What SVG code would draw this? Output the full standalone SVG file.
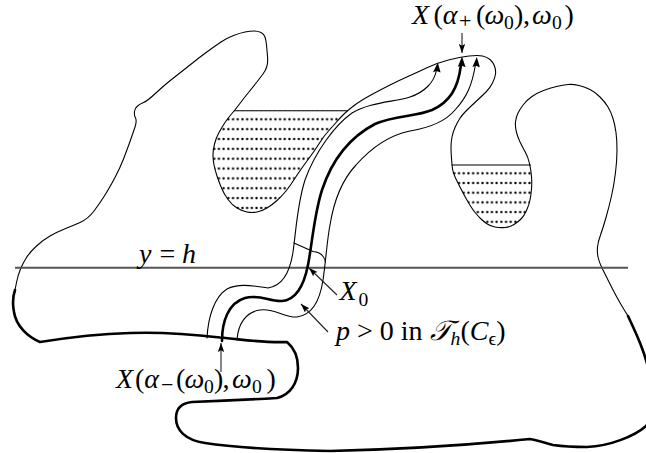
<svg xmlns="http://www.w3.org/2000/svg" width="646" height="453" viewBox="0 0 646 453">
<style>
.thin{fill:none;stroke:#000;stroke-width:1.1;stroke-linejoin:round;stroke-linecap:round}
.thick{fill:none;stroke:#000;stroke-width:2.6;stroke-linejoin:round;stroke-linecap:round}
.ah{fill:#000;stroke:none}
.lbl{fill:none;stroke:#222;stroke-width:1.1}
.t{font-family:"Liberation Serif","DejaVu Serif",serif;font-size:28px;fill:#000}
.i{font-style:italic}
.s{font-size:19.6px}
.sg{font-size:22px}
</style>
<defs>
<pattern id="dotsL" patternUnits="userSpaceOnUse" x="226" y="114.375" width="4.7" height="9.85">
<circle cx="2.35" cy="4.925" r="1.2" fill="#000"/>
</pattern>
<pattern id="dotsR" patternUnits="userSpaceOnUse" x="452" y="168.45" width="4.7" height="9.7">
<circle cx="2.35" cy="4.85" r="1.2" fill="#000"/>
</pattern>
<clipPath id="clipL"><polygon points="234.5,110.7 228,118 222,127 216,138 213,150 213,160 215,170 219,182 224,194 232,205 242,211 252,213 262,211 272,205 282,196 290,186 297,175 304,165 310,157 317,147 324,136 333,126 340,118 347.5,110.7"/></clipPath>
<clipPath id="clipR"><polygon points="452,165 453,173 458,183 463,193 468,202 473,210 478,216 483,221 490,226 500,228 510,227 518,222 524,216 529,205 531,195 532,183 530.5,165"/></clipPath>
<marker id="arr" viewBox="0 0 10 7" refX="10" refY="3.5" markerUnits="userSpaceOnUse" markerWidth="9" markerHeight="6.3" orient="auto">
<path d="M0,0 L10,3.5 L0,7 L2,3.5 z" fill="#000"/>
</marker>
</defs>

<g id="lake-left">
<rect x="205" y="110" width="145" height="110" fill="url(#dotsL)" clip-path="url(#clipL)"/>
<line class="thin" x1="234.5" y1="110.7" x2="347.5" y2="110.7"/>
</g>
<g id="lake-right">
<rect x="445" y="160" width="95" height="75" fill="url(#dotsR)" clip-path="url(#clipR)"/>
<line class="thin" x1="452" y1="165" x2="530.5" y2="165"/>
</g>

<g id="domain">
<path class="thin" d="M 15,290 L 16.5,282.5 Q 18,275 20.5,269 Q 23,263 26.5,257.5 Q 30,252 36.5,246 Q 43,240 50,236 Q 57,232 64.5,229 Q 72,226 80,222.5 Q 88,219 94,211 Q 100,203 105,195 Q 110,187 115,177.5 Q 120,168 123.5,159 Q 127,150 130,141.5 Q 133,133 135,127 Q 137,121 135.5,118 Q 134,115 134.5,111.5 Q 135,108 137.5,106 Q 140,104 143.5,102.5 Q 147,101 152,96.5 Q 157,92 162,87.5 Q 167,83 176,76 Q 185,69 192.5,63 Q 200,57 207.5,51.5 Q 215,46 221,42 Q 227,38 233.5,35.5 Q 240,33 245,32 Q 250,31 254,31 Q 258,31 261,32.5 Q 264,34 265,37 Q 266,40 266.5,45 Q 267,50 267.5,56 Q 268,62 267,66 Q 266,70 263,74 Q 260,78 256.5,82.5 Q 253,87 248.5,92.5 Q 244,98 239.5,104 Q 235,110 231.5,114 Q 228,118 225,122.5 Q 222,127 219,132.5 Q 216,138 214.5,144 Q 213,150 213,155 Q 213,160 214,165 Q 215,170 217,176 Q 219,182 221.5,188 Q 224,194 228,199.5 Q 232,205 237,208 Q 242,211 247,212 Q 252,213 257,212 Q 262,211 267,208 Q 272,205 277,200.5 Q 282,196 286,191 Q 290,186 293.5,180.5 Q 297,175 300.5,170 Q 304,165 307,161 Q 310,157 313.5,152 Q 317,147 320.5,141.5 Q 324,136 328.5,131 Q 333,126 336.5,122 Q 340,118 343.5,114.5 Q 347,111 353.5,106 Q 360,101 370,95.5 Q 380,90 390,85 Q 400,80 409,76 Q 418,72 427.5,67.5 Q 437,63 448.5,60 Q 460,57 469,56 Q 478,55 482.5,56 Q 487,57 490,59.5 Q 493,62 494.5,66 Q 496,70 495.5,74 Q 495,78 492.5,83 Q 490,88 486,92 Q 482,96 476,101.5 Q 470,107 466,111 Q 462,115 459.5,119 Q 457,123 455,127.5 Q 453,132 452,137 Q 451,142 451,147 Q 451,152 451.5,158.5 Q 452,165 452.5,169 Q 453,173 455.5,178 Q 458,183 460.5,188 Q 463,193 465.5,197.5 Q 468,202 470.5,206 Q 473,210 475.5,213 Q 478,216 480.5,218.5 Q 483,221 486.5,223.5 Q 490,226 495,227 Q 500,228 505,227.5 Q 510,227 514,224.5 Q 518,222 521,219 Q 524,216 526.5,210.5 Q 529,205 530,200 Q 531,195 531.5,189 Q 532,183 531.5,176.5 Q 531,170 529.5,163.5 Q 528,157 525.5,152.5 Q 523,148 520.5,143 Q 518,138 516.5,132.5 Q 515,127 515.5,122 Q 516,117 518,113 Q 520,109 523.5,104.5 Q 527,100 532,96.5 Q 537,93 543.5,90.5 Q 550,88 556.5,86.5 Q 563,85 568,84.5 Q 573,84 579,85.5 Q 585,87 590,89.5 Q 595,92 600,97 Q 605,102 608,107 Q 611,112 613,118.5 Q 615,125 616,132.5 Q 617,140 617,150 Q 617,160 615.5,172.5 Q 614,185 611.5,196 Q 609,207 606,217.5 Q 603,228 600.5,235 Q 598,242 597.5,247 Q 597,252 598,257 Q 599,262 602,268 Q 605,274 609,282 Q 613,290 616.5,296.5 Q 620,303 624,309.5 L 628,316"/>
<path class="thick" d="M 628,316 C 636,333 645,352 650,375 C 654,395 654,415 646,426 C 635,436 610,446 587,447 C 575,447 560,446 553,445 C 545,443 537,440 530,439 C 500,442 420,449 330,451 C 280,450 230,447 205,443 C 185,440 176,430 176,418 C 176,408 182,403 192,402 C 220,401 260,399 277,398 C 290,395 298,383 298,368 C 298,356 293,347 287,342 C 260,343 240,339 220,337.5 C 190,334 160,332 130,333 C 95,334 65,338 40,342 C 28,337 16,326 14,312 C 12,302 13,296 15,290"/>
</g>

<g id="level-line">
<line x1="15" y1="267.7" x2="628" y2="267.7" stroke="#555" stroke-width="1.9"/>
</g>

<g id="tube">
<path class="thin" d="M 207,338 C 208,318 214,297 227,289 C 240,282 258,287 268,288 C 282,286 290,272 293,252 C 296,232 297,205 305,180 C 315,152 335,125 352,113 C 370,102 395,102 410,97 C 425,92 434,82 436.3,71"/>
<polygon class="ah" points="437.8,62.5 440.6,72.6 436.5,71 433,72.2"/>
<path class="thick" d="M 222,341 C 222,322 228,303 245,298 C 260,294 270,302 282,301 C 296,300 304,285 308,265 C 312,245 314,215 322,190 C 332,160 350,137 375,124 C 395,115 415,117 432,110 C 450,102 458,88 460.8,66"/>
<polygon class="ah" points="462,56.5 465.6,67.2 461.5,65.6 457.8,66.8"/>
<path class="thin" d="M 237,340 C 238,325 245,312 260,310 C 275,308 285,318 297,317 C 312,315 320,300 323,280 C 326,260 327,240 330,225 C 334,200 342,180 356,165 C 372,147 390,135 410,131 C 428,128 445,122 455,110 C 467,97 472,85 475.2,66"/>
<polygon class="ah" points="476.8,57 479.9,67.3 475.8,65.8 472.4,66.9"/>
<path id="section-X0" class="thin" d="M 294,243 L 313,251.5 C 318,252 324,254 325.5,262"/>
</g>

<g id="connectors">
<line class="lbl" x1="462" y1="33" x2="462" y2="53" marker-end="url(#arr)"/>
<line class="lbl" x1="221" y1="372" x2="221" y2="343" marker-end="url(#arr)"/>
<line class="lbl" x1="337" y1="295" x2="309" y2="268" marker-end="url(#arr)"/>
<line class="lbl" x1="328" y1="332" x2="301" y2="304" marker-end="url(#arr)"/>
</g>

<g id="labels">
<text class="t" y="24"><tspan class="i" x="412">X</tspan><tspan x="433.5">(</tspan><tspan class="i" x="442.8">α</tspan><tspan class="sg" x="459" y="27.5">+</tspan><tspan x="476" y="24">(</tspan><tspan class="i" x="484.5">ω</tspan><tspan class="s" x="504" y="29">0</tspan><tspan x="514" y="24">)</tspan><tspan x="523">,</tspan><tspan class="i" x="532">ω</tspan><tspan class="s" x="552" y="29">0</tspan><tspan x="564.5" y="24">)</tspan></text>
<text class="t" y="388"><tspan class="i" x="116">X</tspan><tspan x="135">(</tspan><tspan class="i">α</tspan><tspan class="sg" x="161" y="391.5">−</tspan><tspan x="176" y="388">(</tspan><tspan class="i" x="184.5">ω</tspan><tspan class="s" x="204" y="393">0</tspan><tspan x="214" y="388">)</tspan><tspan x="222.5">,</tspan><tspan class="i" x="232">ω</tspan><tspan class="s" x="252" y="393">0</tspan><tspan x="266.5" y="388">)</tspan></text>
<text class="t" y="263"><tspan class="i" x="139">y</tspan><tspan x="159.5">=</tspan><tspan class="i" x="182">h</tspan></text>
<text class="t" y="300"><tspan class="i" x="339.5">X</tspan><tspan class="s" x="358.5" y="306">0</tspan></text>
<text class="t" x="336" y="340"><tspan class="i">p</tspan> &gt; 0 in <tspan class="i">𝒯</tspan><tspan class="s i" dy="5">h</tspan><tspan dy="-5">(</tspan><tspan class="i">C</tspan><tspan class="s" dy="5">ϵ</tspan><tspan dy="-5">)</tspan></text>
</g>
</svg>
